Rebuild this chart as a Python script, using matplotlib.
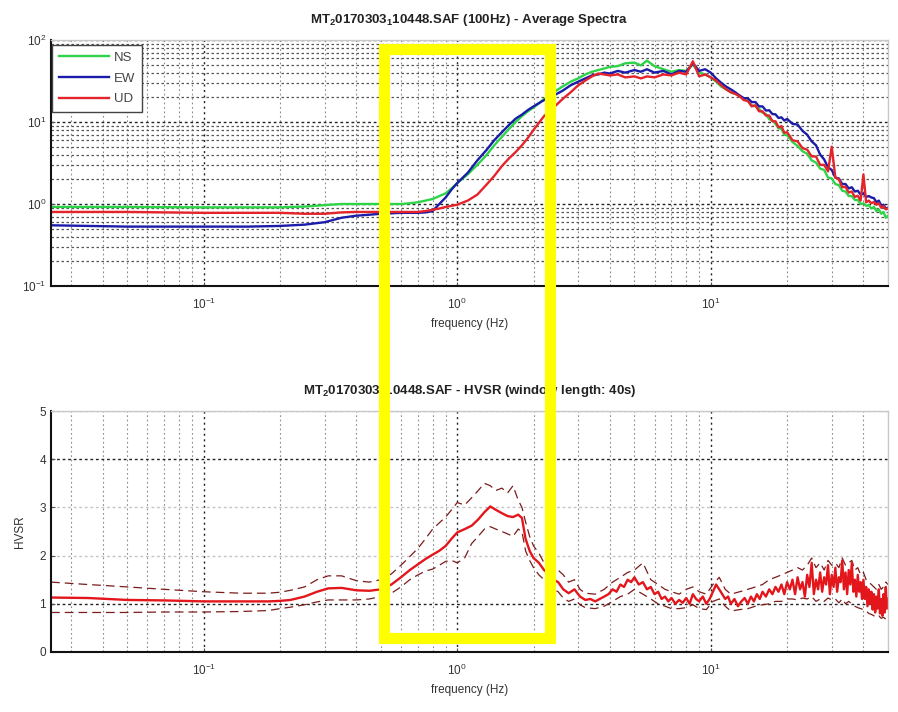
import matplotlib
matplotlib.use("Agg")
import matplotlib.pyplot as plt
from matplotlib.patches import Rectangle
from matplotlib.ticker import LogLocator, NullFormatter, FixedLocator, FixedFormatter

plt.rcParams['font.family'] = ['Liberation Sans', 'DejaVu Sans']
plt.rcParams['mathtext.fontset'] = 'custom'
plt.rcParams['mathtext.rm'] = 'Liberation Sans'
plt.rcParams['mathtext.it'] = 'Liberation Sans:italic'
plt.rcParams['mathtext.bf'] = 'Liberation Sans:bold'
plt.rcParams['mathtext.default'] = 'regular'

# ---------------- Average spectra (NS / EW / UD) ----------------
freq_spec = [0.025, 0.05, 0.1, 0.15, 0.2, 0.25, 0.3, 0.35, 0.4, 0.45,
             0.5, 0.55, 0.6, 0.65, 0.7, 0.75, 0.8, 0.85, 0.9, 0.95,
             1.0, 1.1, 1.2, 1.3, 1.4, 1.5, 1.6, 1.7, 1.8, 1.9,
             2.0, 2.2, 2.4, 2.6, 2.8, 3.0, 3.2, 3.4, 3.6, 3.8,
             4.0, 4.3, 4.6, 5.0, 5.3, 5.6, 6.0, 6.5, 7.0, 7.5,
             8.0, 8.5, 9.0, 9.5, 10, 10.5, 11, 11.5, 12, 12.5,
             13, 13.5, 14, 14.5, 15, 15.5, 16, 16.5, 17, 17.5,
             18, 18.5, 19, 19.5, 20, 21, 22, 23, 24, 25,
             26, 27, 28, 29, 30, 31, 32, 33, 34, 35,
             36, 37, 38, 39, 40, 41, 42, 43, 44, 45,
             46, 47, 48, 49, 50]

spec_ns = [0.92, 0.92, 0.91, 0.91, 0.91, 0.93, 0.97, 1.0, 1.0, 1.0,
           1.0, 1.0, 1.0, 1.02, 1.05, 1.1, 1.15, 1.25, 1.35, 1.55,
           1.8, 2.3, 3.0, 3.9, 5.2, 6.6, 8.2, 10, 11.8, 13.5,
           15, 19, 23, 27, 31, 34, 38, 41, 43, 45,
           47, 48, 52, 53, 49, 56, 48, 44, 41, 43,
           42, 50, 40, 38, 35, 31, 27, 25, 23, 22,
           21, 19, 18.5, 16, 15.5, 14.5, 13, 12.5, 10.8, 10.5,
           9.5, 8.4, 8.2, 7.0, 6.9, 5.7, 5.1, 4.4, 4.1, 3.4,
           3.2, 2.7, 2.6, 2.1, 2.05, 1.75, 1.7, 1.45, 1.42, 1.25,
           1.25, 1.12, 1.12, 1.0, 1.02, 0.95, 0.97, 0.88, 0.92, 0.82,
           0.86, 0.76, 0.8, 0.68, 0.72]

spec_ew = [0.55, 0.53, 0.53, 0.53, 0.54, 0.56, 0.6, 0.68, 0.72, 0.74,
           0.76, 0.77, 0.78, 0.78, 0.78, 0.79, 0.82, 1.0, 1.2, 1.5,
           1.8, 2.4, 3.4, 4.5, 6.0, 7.5, 9.2, 11, 12.3, 14,
           15.5, 18.5, 21, 24, 28, 31, 34, 37, 38, 40,
           39, 42, 40, 43, 41, 44, 40, 42, 38, 42,
           41, 52, 42, 44, 40, 34, 30, 27, 25, 23,
           21, 19.5, 19.5, 17.5, 17.5, 15.5, 15.5, 13.8, 13.9, 12.5,
           12.4, 11.2, 11.4, 10.4, 10.9, 9.5, 9.3, 7.8, 7.0, 5.8,
           5.2, 4.0, 3.5, 2.8, 2.6, 2.1, 2.05, 1.75, 1.75, 1.55,
           1.6, 1.42, 1.45, 1.3, 1.35, 1.22, 1.25, 1.2, 1.18, 1.05,
           1.1, 0.96, 0.98, 0.88, 0.9]

spec_ud = [0.8, 0.8, 0.78, 0.78, 0.78, 0.76, 0.76, 0.79, 0.8, 0.8,
           0.8, 0.8, 0.8, 0.8, 0.8, 0.82, 0.85, 0.88, 0.92, 0.95,
           0.98, 1.1, 1.3, 1.7, 2.2, 2.9, 3.6, 4.3, 5.2, 6.4,
           8, 11.8, 15, 19, 23, 28, 32, 36, 39, 38,
           37, 38, 35, 36, 34, 36, 35, 38, 37, 40,
           38, 55, 36, 38, 35, 32, 28, 25, 23, 22,
           20.5, 18.5, 18, 15.5, 16, 13.5, 13.5, 12, 12, 10.2,
           10.2, 8.6, 8.9, 7.4, 7.5, 6.0, 5.8, 4.8, 4.6, 3.8,
           3.8, 3.0, 3.0, 2.5, 5.0, 2.1, 2.0, 1.6, 1.62, 1.38,
           1.42, 1.22, 1.26, 1.1, 2.3, 1.05, 1.1, 1.02, 1.06, 0.98,
           1.02, 0.9, 0.94, 0.86, 0.88]

spec_labels = ['NS', 'EW', 'UD']
spec_colors = ['#2ed448', '#1c1caa', '#e5232a']

# ---------------- HVSR curve with +/- one standard deviation ----------------
freq_hv = [0.025, 0.035, 0.05, 0.07, 0.1, 0.14, 0.18, 0.2, 0.22, 0.25,
           0.28, 0.31, 0.35, 0.4, 0.45, 0.5, 0.55, 0.6, 0.65, 0.7,
           0.75, 0.8, 0.85, 0.9, 0.95, 1.0, 1.07, 1.14, 1.21, 1.28,
           1.35, 1.42, 1.5, 1.58, 1.66, 1.74, 1.8, 1.86, 1.93, 2.0,
           2.1, 2.2, 2.3, 2.4, 2.5, 2.62, 2.75, 2.9, 3.05, 3.2,
           3.35, 3.5, 3.65, 3.8, 3.95, 4.1, 4.25, 4.4, 4.55, 4.7,
           4.85, 5.0, 5.2, 5.4, 5.6, 5.8, 6.0, 6.2, 6.4, 6.6,
           6.8, 7.0, 7.25, 7.5, 7.75, 8.0, 8.25, 8.5, 8.75, 9.0,
           9.3, 9.6, 9.9, 10.2, 10.5, 10.8, 11.1, 11.4, 11.7, 12.0,
           12.4, 12.8, 13.2, 13.6, 14.0, 14.4, 14.8, 15.2, 15.6, 16.0,
           16.5, 17.0, 17.5, 18.0, 18.5, 19.0, 19.5, 20.0, 20.5, 21.0,
           21.5, 22.0, 22.5, 23.0, 23.5, 24.0, 24.5, 25.0, 25.5, 26.0,
           26.5, 27.0, 27.5, 28.0, 28.5, 29.0, 29.5, 30.0, 30.5, 31.0,
           31.5, 32.0, 32.5, 33.0, 33.5, 34.0, 34.5, 35.0, 35.5, 36.0,
           36.5, 37.0, 37.5, 38.0, 38.5, 39.0, 39.5, 40.0, 40.5, 41.0,
           41.5, 42.0, 42.5, 43.0, 43.5, 44.0, 44.5, 45.0, 45.5, 46.0,
           46.5, 47.0, 47.5, 48.0, 48.5, 49.0, 49.5, 50.0]

hv_mean = [1.13, 1.12, 1.08, 1.07, 1.05, 1.05, 1.05, 1.06, 1.08, 1.15,
           1.25, 1.32, 1.33, 1.28, 1.27, 1.3, 1.4, 1.55, 1.7, 1.82,
           1.93, 2.02, 2.1, 2.2, 2.35, 2.48, 2.55, 2.62, 2.75, 2.9,
           3.02, 2.95, 2.88, 2.82, 2.8, 2.85, 2.78, 2.35, 2.1, 1.95,
           1.85, 1.7, 1.62, 1.5, 1.45, 1.3, 1.22, 1.3, 1.15, 1.08,
           1.1, 1.05, 1.1, 1.15, 1.2, 1.3, 1.25, 1.4, 1.35, 1.5,
           1.45, 1.55, 1.4, 1.45, 1.3, 1.35, 1.2, 1.25, 1.1, 1.15,
           1.05, 1.12, 1.0, 1.08, 1.02, 1.12, 1.0, 1.2, 1.1, 1.05,
           1.15, 1.0, 1.1, 1.25, 1.4, 1.3, 1.2, 1.1, 1.15, 1.0,
           1.1, 0.95, 1.05, 1.12, 1.0, 1.15, 1.05, 1.2, 1.1, 1.25,
           1.15, 1.3, 1.2, 1.35, 1.25, 1.4, 1.2, 1.45, 1.3, 1.5,
           1.2, 1.55, 1.3, 1.45, 1.15, 1.6, 1.35, 1.85, 1.2, 1.5,
           1.3, 1.65, 1.25, 1.55, 1.4, 1.8, 1.2, 1.6, 1.35, 1.75,
           1.25, 1.55, 1.45, 1.9, 1.3, 1.65, 1.2, 1.7, 1.4, 1.85,
           1.25, 1.5, 1.15, 1.6, 1.25, 1.45, 1.1, 1.5, 1.1, 1.35,
           0.95, 1.3, 1.0, 1.25, 0.88, 1.2, 0.82, 1.15, 0.9, 1.3,
           0.8, 1.1, 0.75, 1.2, 0.82, 1.35, 0.9, 1.1]

freq_std = [0.025, 0.035, 0.05, 0.07, 0.1, 0.14, 0.18, 0.2, 0.22, 0.25,
            0.28, 0.31, 0.35, 0.4, 0.45, 0.5, 0.55, 0.6, 0.65, 0.7,
            0.75, 0.8, 0.85, 0.9, 0.95, 1.0, 1.07, 1.14, 1.21, 1.28,
            1.35, 1.42, 1.5, 1.58, 1.66, 1.74, 1.8, 1.86, 1.93, 2.0,
            2.1, 2.2, 2.3, 2.4, 2.5, 2.62, 2.75, 2.9, 3.05, 3.2,
            3.5, 3.8, 4.1, 4.4, 4.7, 5.0, 5.4, 5.8, 6.2, 6.6,
            7.0, 7.5, 8.0, 8.5, 9.0, 9.6, 10.2, 10.8, 11.4, 12.0,
            13, 14, 15, 16, 17, 18, 19, 20, 21, 22,
            23, 24, 25, 26, 27, 28, 29, 30, 31, 32,
            33, 34, 35, 36, 37, 38, 39, 40, 41, 42,
            43, 44, 45, 46, 47, 48, 49, 50]

hv_upper = [1.45, 1.4, 1.35, 1.3, 1.25, 1.22, 1.22, 1.24, 1.28, 1.35,
            1.5, 1.58, 1.58, 1.48, 1.45, 1.5, 1.62, 1.8, 1.98, 2.15,
            2.35, 2.55, 2.68, 2.8, 2.95, 3.1, 3.05, 3.2, 3.35, 3.5,
            3.45, 3.35, 3.4, 3.3, 3.45, 3.15, 3.0, 2.7, 2.4, 2.2,
            2.05, 1.85, 1.75, 1.72, 1.7, 1.6, 1.45, 1.5, 1.3, 1.22,
            1.2, 1.3, 1.45, 1.55, 1.65, 1.7, 1.85, 1.5, 1.4, 1.3,
            1.25, 1.2, 1.3, 1.35, 1.25, 1.2, 1.4, 1.55, 1.3, 1.2,
            1.25, 1.3, 1.35, 1.4, 1.5, 1.55, 1.6, 1.65, 1.7, 1.75,
            1.7, 1.8, 1.95, 1.75, 1.85, 1.7, 1.9, 1.8, 1.85, 1.75,
            1.95, 1.8, 1.85, 1.9, 1.7, 1.75, 1.6, 1.65, 1.5, 1.45,
            1.4, 1.35, 1.3, 1.4, 1.3, 1.35, 1.45, 1.4]

hv_lower = [0.82, 0.82, 0.82, 0.83, 0.83, 0.84, 0.86, 0.9, 0.93, 0.98,
            1.04, 1.08, 1.08, 1.08, 1.1, 1.15, 1.22, 1.35, 1.5, 1.6,
            1.68, 1.72, 1.8, 1.88, 1.9, 1.85, 1.95, 2.25, 2.4, 2.55,
            2.6, 2.55, 2.5, 2.45, 2.4, 2.55, 2.5, 2.1, 1.9, 1.75,
            1.6, 1.5, 1.4, 1.3, 1.25, 1.12, 1.05, 1.1, 0.98, 0.92,
            0.9, 0.95, 1.05, 1.15, 1.2, 1.3, 1.2, 1.1, 1.0, 0.95,
            0.9, 0.9, 0.92, 0.98, 0.9, 0.88, 1.05, 1.1, 0.95, 0.85,
            0.88, 0.9, 0.95, 0.98, 1.0, 1.05, 1.05, 1.1, 1.1, 1.08,
            1.12, 1.1, 1.15, 1.05, 1.1, 1.05, 1.12, 1.08, 1.1, 1.02,
            1.1, 1.0, 1.05, 1.0, 0.95, 0.92, 0.9, 0.88, 0.85, 0.8,
            0.78, 0.75, 0.72, 0.75, 0.7, 0.72, 0.68, 0.7]

hv_yticks = [0, 1, 2, 3, 4, 5]
title_spec = r'MT$_2$0170303$_1$10448.SAF (100Hz) - Average Spectra'
title_hvsr = r'MT$_2$0170303$_1$10448.SAF - HVSR (window length: 40s)'
xlabel = 'frequency (Hz)'

FMIN, FMAX = 0.025, 50.0
TXT = '#333333'


def style_axes(ax):
    ax.set_xscale('log')
    ax.set_xlim(FMIN, FMAX)
    ax.xaxis.set_major_locator(FixedLocator([0.1, 1, 10]))
    ax.xaxis.set_major_formatter(FixedFormatter([r'$10^{-1}$', r'$10^{0}$', r'$10^{1}$']))
    ax.xaxis.set_minor_locator(LogLocator(base=10, subs=range(2, 10), numticks=20))
    ax.xaxis.set_minor_formatter(NullFormatter())
    ax.tick_params(which='both', direction='in', colors='#555555', labelcolor=TXT,
                   labelsize=8.5, top=False, right=False)
    ax.tick_params(which='major', length=3)
    ax.tick_params(which='minor', length=1.5)
    ax.tick_params(axis='x', pad=8)
    for side in ('top', 'right'):
        ax.spines[side].set_color('#c8c8c8')
        ax.spines[side].set_linewidth(1.0)
    for side in ('left', 'bottom'):
        ax.spines[side].set_color('#111111')
        ax.spines[side].set_linewidth(1.5)
    ax.set_axisbelow(True)
    ax.xaxis.grid(True, which='major', linestyle=(0, (1.5, 2.5)), color='#222222', linewidth=1.0)
    ax.xaxis.grid(True, which='minor', linestyle=(0, (1.5, 2.5)), color='#8a8a8a', linewidth=0.8)
    ax.set_xlabel(xlabel, fontsize=8.5, color=TXT, labelpad=4)


fig = plt.figure(figsize=(8.98, 7.12), dpi=100)
fig.patch.set_facecolor('white')

# ---- upper panel: spectra ----
ax1 = fig.add_axes([51 / 898, 1 - 286 / 712, 837 / 898, 246 / 712])
style_axes(ax1)
ax1.set_yscale('log')
ax1.set_ylim(0.1, 100)
ax1.yaxis.set_major_locator(FixedLocator([0.1, 1, 10, 100]))
ax1.yaxis.set_major_formatter(FixedFormatter([r'$10^{-1}$', r'$10^{0}$', r'$10^{1}$', r'$10^{2}$']))
ax1.yaxis.set_minor_locator(LogLocator(base=10, subs=range(2, 10), numticks=20))
ax1.yaxis.set_minor_formatter(NullFormatter())
ax1.yaxis.grid(True, which='major', linestyle=(0, (2, 2)), color='#222222', linewidth=1.0)
ax1.yaxis.grid(True, which='minor', linestyle=(0, (2, 2)), color='#555555', linewidth=0.9)

for vals, lab, col in zip([spec_ns, spec_ew, spec_ud], spec_labels, spec_colors):
    ax1.plot(freq_spec, vals, color=col, linewidth=1.7, label=lab)

leg = ax1.legend(loc='upper left', bbox_to_anchor=(0.0015, 0.98), borderaxespad=0,
                 fontsize=9.5, handlelength=3.8, handletextpad=0.4, labelspacing=0.65,
                 borderpad=0.5, fancybox=False, framealpha=1.0, edgecolor='#444444')
leg.get_frame().set_linewidth(1.0)
for t in leg.get_texts():
    t.set_color('#444444')
ax1.set_title(title_spec, fontsize=9.5, fontweight='bold', color='#222222', pad=12)

# ---- lower panel: HVSR ----
ax2 = fig.add_axes([51 / 898, 1 - 652 / 712, 837 / 898, 241 / 712])
style_axes(ax2)
ax2.set_ylim(0, 5)
ax2.set_yticks(hv_yticks)
ax2.set_yticklabels([str(v) for v in hv_yticks])
ax2.yaxis.grid(True, which='major', linestyle=(0, (2, 2)), linewidth=1.0)
for v, gl in zip(hv_yticks, ax2.yaxis.get_gridlines()):
    if v in (1, 4):
        gl.set_color('#222222')
    else:
        gl.set_color('#c4c4c4')

ax2.plot(freq_std, hv_upper, color='#7a1c1c', linewidth=0.9, linestyle=(0, (7, 4)))
ax2.plot(freq_std, hv_lower, color='#7a1c1c', linewidth=0.9, linestyle=(0, (7, 4)))
ax2.plot(freq_hv, hv_mean, color='#e3161c', linewidth=1.7)
ax2.set_ylabel('HVSR', fontsize=8.5, color=TXT, labelpad=10)
ax2.set_title(title_hvsr, fontsize=9.5, fontweight='bold', color='#222222', pad=12)

# highlight box around the 0.5-2.3 Hz band spanning both panels
fig.add_artist(Rectangle((383.5 / 898, 1 - 637.5 / 712), 166 / 898, 589 / 712,
                         transform=fig.transFigure, fill=False,
                         edgecolor='#ffff00', linewidth=8.0, zorder=10))

fig.savefig('out.png', dpi=100, facecolor='white')
